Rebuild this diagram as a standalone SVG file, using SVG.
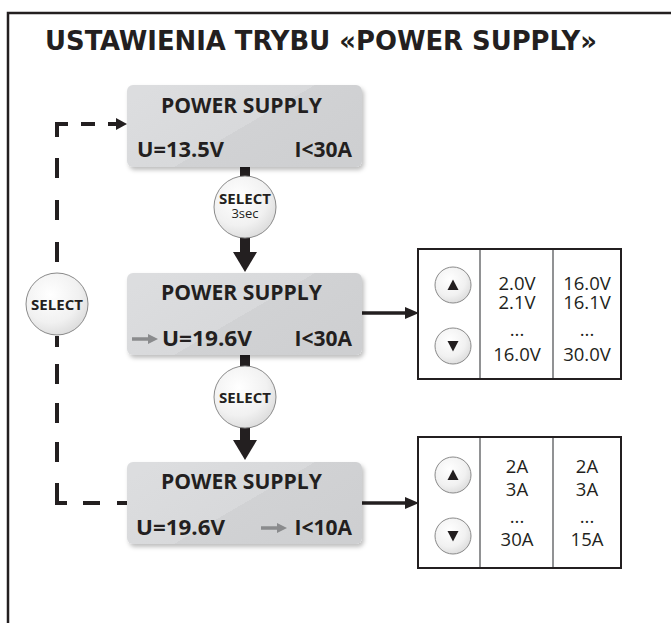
<svg xmlns="http://www.w3.org/2000/svg" width="671" height="623" viewBox="0 0 671 623">
<defs>
<linearGradient id="boxg" x1="0" y1="0.2" x2="1" y2="0.8">
<stop offset="0" stop-color="#dcdddf"/>
<stop offset="0.5" stop-color="#d8d9db"/>
<stop offset="0.5" stop-color="#d1d2d4"/>
<stop offset="1" stop-color="#cecfd1"/>
</linearGradient>
<radialGradient id="btng" cx="0.4" cy="0.35" r="0.75">
<stop offset="0" stop-color="#ffffff"/>
<stop offset="0.6" stop-color="#f1f1f1"/>
<stop offset="1" stop-color="#d6d6d6"/>
</radialGradient>
<filter id="sh" x="-10%" y="-10%" width="125%" height="135%">
<feDropShadow dx="2" dy="3" stdDeviation="2" flood-color="#000" flood-opacity="0.25"/>
</filter>
<style>
.box{fill:url(#boxg);filter:url(#sh);}
.lbl{font-family:"Open Sans","DejaVu Sans",sans-serif;font-weight:700;font-size:21px;fill:#231f20;}
.btn{fill:url(#btng);stroke:#8a8a8a;stroke-width:1;}
.sel{font-family:"Open Sans","DejaVu Sans",sans-serif;font-weight:700;font-size:15px;fill:#231f20;text-anchor:middle;}
.sec{font-family:"Open Sans","DejaVu Sans",sans-serif;font-weight:400;font-size:13px;fill:#231f20;text-anchor:middle;}
.tv{font-family:"Open Sans","DejaVu Sans",sans-serif;font-weight:400;font-size:18.5px;fill:#231f20;text-anchor:middle;}
.tbl{fill:#fff;stroke:#231f20;stroke-width:2;}
.div{stroke:#6d6e70;stroke-width:1.5;}
.con{stroke:#231f20;stroke-width:3.5;fill:none;}
.dash{stroke:#231f20;stroke-width:4;fill:none;}
.garr{stroke:#8a8b8d;stroke-width:3.5;}
.garrh{fill:#8a8b8d;}
.tri{fill:#231f20;}
.ahd{fill:#231f20;}
</style>
</defs>
<rect width="671" height="623" fill="#fff"/>
<path d="M8,623 V13 H671" fill="none" stroke="#231f20" stroke-width="2.5"/>
<text x="45" y="50" font-family="'DejaVu Sans',sans-serif" font-stretch="condensed" font-weight="700" font-size="26" fill="#231f20" textLength="552" lengthAdjust="spacingAndGlyphs">USTAWIENIA TRYBU «POWER SUPPLY»</text>

<g id="connectors">
<rect x="240" y="165" width="10" height="14" fill="#231f20"/>
<rect x="240" y="236" width="10" height="18" fill="#231f20"/>
<path d="M233,252 H257 L245,272 z" fill="#231f20"/>
<rect x="240" y="353" width="10" height="16" fill="#231f20"/>
<rect x="240" y="426" width="10" height="16" fill="#231f20"/>
<path d="M233,440 H257 L245,460 z" fill="#231f20"/>
<line class="con" x1="362" y1="313" x2="408" y2="313"/>
<path class="ahd" d="M405,307 L419,313 L405,319 z"/>
<line class="con" x1="362" y1="503" x2="408" y2="503"/>
<path class="ahd" d="M405,497 L419,503 L405,509 z"/>
<path class="dash" d="M68,124 H57 V137 M57,158 V178 M57,200 V220 M57,242 V262 M81,124 H95 M108,124 H118" stroke-linejoin="miter"/>
<path d="M116,118 L127,124 L116,130 z" fill="#231f20"/>
<path class="dash" d="M57,336 V347 M57,364 V384 M57,403 V423 M57,442 V462 M57,483 V503 H67 M83,503 H100 M117,503 H128" stroke-linejoin="miter"/>
</g>

<g id="node-select-loop">
<circle class="btn" cx="57" cy="304" r="31"/>
<text class="sel" x="57" y="309.5">SELECT</text>
</g>

<g id="node-box1">
<rect class="box" x="127" y="85" width="235" height="82" rx="6"/>
<text class="lbl" x="161" y="113" textLength="161" lengthAdjust="spacingAndGlyphs">POWER SUPPLY</text>
<text class="lbl" x="137" y="157" textLength="87" lengthAdjust="spacingAndGlyphs">U=13.5V</text>
<text class="lbl" x="352" y="157" text-anchor="end">I&lt;30A</text>
</g>

<g id="node-select-3sec">
<circle class="btn" cx="245" cy="207" r="31"/>
<text class="sel" x="245" y="204">SELECT</text>
<text class="sec" x="245" y="218">3sec</text>
</g>

<g id="node-box2">
<rect class="box" x="127" y="273" width="235" height="82" rx="6"/>
<text class="lbl" x="161" y="300" textLength="161" lengthAdjust="spacingAndGlyphs">POWER SUPPLY</text>
<line class="garr" x1="132" y1="339" x2="150" y2="339"/>
<path class="garrh" d="M148,334 L158,339 L148,344 z"/>
<text class="lbl" x="162" y="346" textLength="90" lengthAdjust="spacingAndGlyphs">U=19.6V</text>
<text class="lbl" x="352" y="346" text-anchor="end">I&lt;30A</text>
</g>

<g id="node-select">
<circle class="btn" cx="245" cy="397" r="31"/>
<text class="sel" x="245" y="402.5">SELECT</text>
</g>

<g id="node-box3">
<rect class="box" x="127" y="462" width="235" height="82" rx="6"/>
<text class="lbl" x="161" y="489" textLength="161" lengthAdjust="spacingAndGlyphs">POWER SUPPLY</text>
<text class="lbl" x="136" y="535" textLength="89" lengthAdjust="spacingAndGlyphs">U=19.6V</text>
<line class="garr" x1="261" y1="528" x2="279" y2="528"/>
<path class="garrh" d="M277,523 L287,528 L277,533 z"/>
<text class="lbl" x="352" y="535" text-anchor="end">I&lt;10A</text>
</g>

<g id="node-table-voltage">
<rect class="tbl" x="418" y="249" width="203" height="130"/>
<line class="div" x1="480" y1="250" x2="480" y2="378"/>
<line class="div" x1="553" y1="250" x2="553" y2="378"/>
<circle class="btn" cx="453" cy="285" r="18"/>
<path class="tri" d="M447.5,290 L458.5,290 L453,279.5 z"/>
<circle class="btn" cx="453" cy="346" r="18"/>
<path class="tri" d="M447.5,341 L458.5,341 L453,351.5 z"/>
<text class="tv" x="517" y="290">2.0V</text>
<text class="tv" x="517" y="309">2.1V</text>
<text class="tv" x="517" y="336">...</text>
<text class="tv" x="517" y="361">16.0V</text>
<text class="tv" x="587" y="290">16.0V</text>
<text class="tv" x="587" y="309">16.1V</text>
<text class="tv" x="587" y="336">...</text>
<text class="tv" x="587" y="361">30.0V</text>
</g>

<g id="node-table-current">
<rect class="tbl" x="418" y="437" width="203" height="131"/>
<line class="div" x1="480" y1="438" x2="480" y2="567"/>
<line class="div" x1="553" y1="438" x2="553" y2="567"/>
<circle class="btn" cx="453" cy="475" r="18"/>
<path class="tri" d="M447.5,480 L458.5,480 L453,469.5 z"/>
<circle class="btn" cx="453" cy="536" r="18"/>
<path class="tri" d="M447.5,531 L458.5,531 L453,541.5 z"/>
<text class="tv" x="517" y="473">2A</text>
<text class="tv" x="517" y="496">3A</text>
<text class="tv" x="517" y="523">...</text>
<text class="tv" x="517" y="546">30A</text>
<text class="tv" x="587" y="473">2A</text>
<text class="tv" x="587" y="496">3A</text>
<text class="tv" x="587" y="523">...</text>
<text class="tv" x="587" y="546">15A</text>
</g>
</svg>
